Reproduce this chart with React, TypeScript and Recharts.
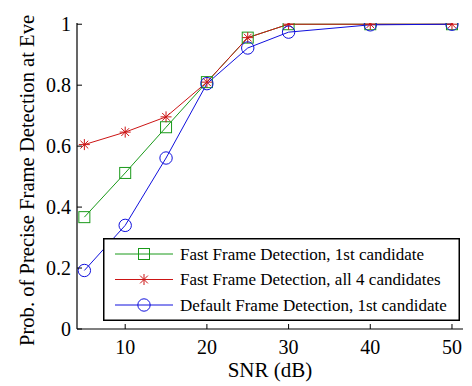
import React from "react";
import { LineChart, Line, XAxis, YAxis, Legend } from "recharts";

const snr = [5, 10, 15, 20, 25, 30, 40, 50];
const fastFirst = [0.367, 0.512, 0.662, 0.81, 0.956, 1.0, 1.0, 1.0];
const fastAll = [0.605, 0.646, 0.696, 0.81, 0.956, 1.0, 1.0, 1.0];
const defaultFirst = [0.192, 0.34, 0.561, 0.805, 0.922, 0.974, 0.998, 1.0];
const xTicks = [10, 20, 30, 40, 50];
const yTicks = [0, 0.2, 0.4, 0.6, 0.8, 1];

const seriesNames = [
  "Fast Frame Detection, 1st candidate",
  "Fast Frame Detection, all 4 candidates",
  "Default Frame Detection, 1st candidate",
];

const GREEN = "#1a9a1a";
const RED = "#cc1515";
const BLUE = "#1010dd";
const FONT = "'Liberation Serif', 'DejaVu Serif', serif";

const data = snr.map((s, i) => ({
  snr: s,
  fastFirst: fastFirst[i],
  fastAll: fastAll[i],
  defaultFirst: defaultFirst[i],
}));

function Square({ cx, cy }: { cx: number; cy: number }) {
  return <rect x={cx - 5.5} y={cy - 5.5} width={11} height={11} fill="none" stroke={GREEN} strokeWidth={1} />;
}

function Star({ cx, cy }: { cx: number; cy: number }) {
  const r = 5.5;
  const d = 3.9;
  return (
    <g stroke={RED} strokeWidth={1}>
      <line x1={cx - r} y1={cy} x2={cx + r} y2={cy} />
      <line x1={cx} y1={cy - r} x2={cx} y2={cy + r} />
      <line x1={cx - d} y1={cy - d} x2={cx + d} y2={cy + d} />
      <line x1={cx - d} y1={cy + d} x2={cx + d} y2={cy - d} />
    </g>
  );
}

function Circle({ cx, cy }: { cx: number; cy: number }) {
  return <circle cx={cx} cy={cy} r={6.2} fill="none" stroke={BLUE} strokeWidth={1} />;
}

const markers = [Square, Star, Circle];
const colors = [GREEN, RED, BLUE];

function makeDot(M: typeof Square) {
  return (props: any) => (
    <g key={`d-${props.index}`}>
      <M cx={props.cx} cy={props.cy} />
    </g>
  );
}

const BottomTick = (props: any) => {
  const { x, y, payload } = props;
  return (
    <g>
      <line x1={x} y1={y} x2={x} y2={y - 5} stroke="#000" />
      <text x={x} y={y + 25} textAnchor="middle" fontSize={20} fontFamily={FONT} fill="#000">
        {payload.value}
      </text>
    </g>
  );
};

const TopTick = (props: any) => {
  const { x, y } = props;
  return <line x1={x} y1={y} x2={x} y2={y + 5} stroke="#000" />;
};

const LeftTick = (props: any) => {
  const { x, y, payload } = props;
  return (
    <g>
      <line x1={x} y1={y} x2={x + 5} y2={y} stroke="#000" />
      <text x={x - 6} y={y + 7} textAnchor="end" fontSize={20} fontFamily={FONT} fill="#000">
        {payload.value}
      </text>
    </g>
  );
};

const RightTick = (props: any) => {
  const { x, y } = props;
  return <line x1={x} y1={y} x2={x - 5} y2={y} stroke="#000" />;
};

const renderLegend = () => (
  <svg width={357} height={83} style={{ display: "block" }}>
    <rect x={0.75} y={0.75} width={355.5} height={81.5} fill="#fff" stroke="#000" strokeWidth={1.5} />
    {seriesNames.map((name, i) => {
      const cy = 16 + i * 25.5;
      const M = markers[i];
      return (
        <g key={name}>
          <line x1={12} y1={cy} x2={70} y2={cy} stroke={colors[i]} strokeWidth={1} />
          <M cx={41} cy={cy} />
          <text x={77} y={cy + 5.5} fontSize={17} fontFamily={FONT} fill="#000">
            {name}
          </text>
        </g>
      );
    })}
  </svg>
);

export default function App() {
  return (
    <div style={{ width: 464, height: 378 }}>
      <LineChart
        width={464}
        height={378}
        data={data}
        margin={{ top: 15, right: 9, left: 9, bottom: 7 }}
        style={{ fontFamily: FONT }}
      >
        <XAxis
          dataKey="snr"
          type="number"
          domain={[4.1, 51.35]}
          ticks={xTicks}
          interval={0}
          allowDataOverflow
          height={50}
          tickSize={0}
          tickMargin={0}
          tick={BottomTick}
          axisLine={{ stroke: "#000", strokeWidth: 1.2 }}
          tickLine={false}
          label={{ value: "SNR (dB)", position: "insideBottom", offset: 2, fontSize: 21, fill: "#000", fontFamily: FONT }}
        />
        <XAxis
          xAxisId="top"
          dataKey="snr"
          type="number"
          orientation="top"
          domain={[4.1, 51.35]}
          ticks={xTicks}
          interval={0}
          allowDataOverflow
          height={0}
          tickSize={0}
          tickMargin={0}
          tick={TopTick}
          axisLine={{ stroke: "#000", strokeWidth: 1.2 }}
          tickLine={false}
        />
        <YAxis
          type="number"
          domain={[0, 1.004]}
          ticks={yTicks}
          interval={0}
          allowDataOverflow
          width={60}
          tickSize={0}
          tickMargin={0}
          tick={LeftTick}
          axisLine={{ stroke: "#000", strokeWidth: 1.2 }}
          tickLine={false}
          label={{
            content: () => (
              <text
                x={26}
                y={338}
                transform="rotate(-90, 26, 338)"
                fontSize={20.6}
                fontFamily={FONT}
                fill="#000"
              >
                Prob. of Precise Frame Detection at Eve
              </text>
            ),
          }}
        />
        <YAxis
          yAxisId="right"
          orientation="right"
          type="number"
          domain={[0, 1.004]}
          ticks={yTicks}
          interval={0}
          allowDataOverflow
          width={0}
          tickSize={0}
          tickMargin={0}
          tick={RightTick}
          axisLine={{ stroke: "#000", strokeWidth: 1.2 }}
          tickLine={false}
        />
        <Legend
          layout="vertical"
          align="center"
          verticalAlign="middle"
          content={renderLegend}
          wrapperStyle={{ position: "absolute", left: 95, top: 230, width: 357, height: 83 }}
        />
        <Line
          dataKey="fastFirst"
          stroke={GREEN}
          strokeWidth={1}
          dot={makeDot(Square)}
          activeDot={false}
          isAnimationActive={false}
        />
        <Line
          dataKey="fastAll"
          stroke={RED}
          strokeWidth={1}
          dot={makeDot(Star)}
          activeDot={false}
          isAnimationActive={false}
        />
        <Line
          dataKey="defaultFirst"
          stroke={BLUE}
          strokeWidth={1}
          dot={makeDot(Circle)}
          activeDot={false}
          isAnimationActive={false}
        />
      </LineChart>
    </div>
  );
}
